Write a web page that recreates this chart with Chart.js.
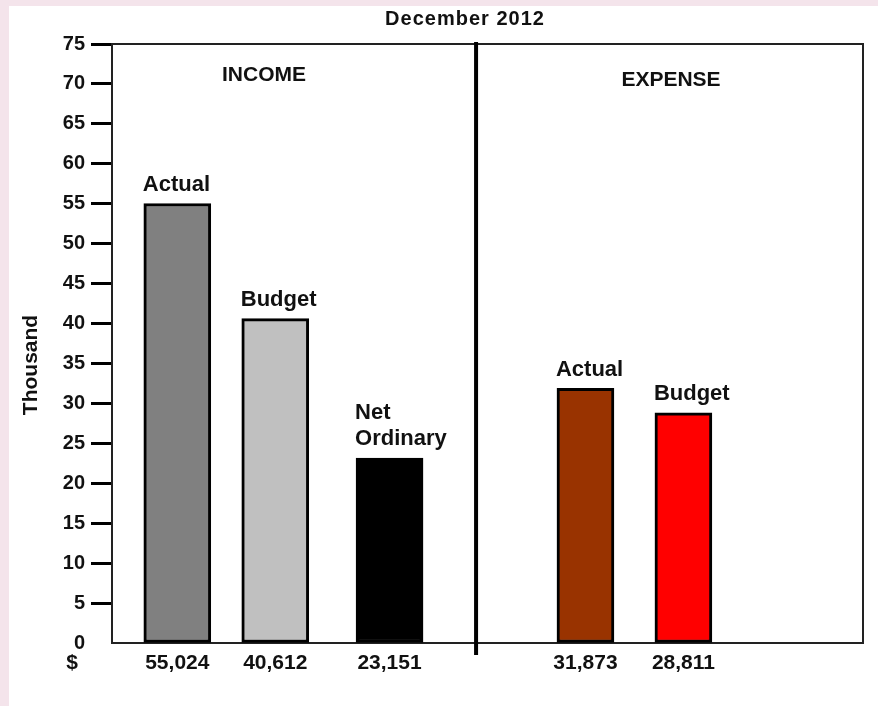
<!DOCTYPE html>
<html>
<head>
<meta charset="utf-8">
<script src="https://cdn.jsdelivr.net/npm/chart.js@4.4.0/dist/chart.umd.min.js"></script>
<style>
html,body{margin:0;padding:0;}
body{width:878px;height:706px;background:#f4e4eb;position:relative;overflow:hidden;}
#paper{position:absolute;left:9px;top:6px;right:0;bottom:0;background:#fff;}
#wrap{position:absolute;left:0;top:0;width:878px;height:706px;}
</style>
</head>
<body>
<div id="paper"></div>
<div id="wrap"><canvas id="chart"></canvas></div>
<script>
// values as printed under the bars
const categories = ['Actual', 'Budget', 'Net Ordinary', 'Actual', 'Budget'];
const sections = ['INCOME', 'INCOME', 'INCOME', 'EXPENSE', 'EXPENSE'];
const amounts = [55024, 40612, 23151, 31873, 28811];
const yTicks = [0, 5, 10, 15, 20, 25, 30, 35, 40, 45, 50, 55, 60, 65, 70, 75];
const sectionNames = ['INCOME', 'EXPENSE'];
const chartTitle = 'December 2012';
const yTitle = 'Thousand';

// layout: bars sit on a fine category grid
const SLOTS = 47;
const barSlot = [4, 10, 17, 29, 35];
const dividerSlot = 22.3;
const barColors = ['#808080', '#c0c0c0', '#000000', '#993300', '#ff0000'];
const FONT = "'Liberation Sans', Arial, sans-serif";

const labels = Array.from({length: SLOTS}, (_, i) => {
  const b = barSlot.indexOf(i);
  return b < 0 ? '' : categories[b];
});

function sectionData(name){
  const data = new Array(SLOTS).fill(null);
  sections.forEach((s, b) => { if(s === name) data[barSlot[b]] = amounts[b] / 1000; });
  return data;
}

const colorAt = ctx => {
  const b = barSlot.indexOf(ctx.dataIndex);
  return b < 0 ? 'transparent' : barColors[b];
};

const datasets = sectionNames.map((name, i) => ({
  label: name,
  data: sectionData(name),
  backgroundColor: colorAt,
  borderColor: '#000',
  borderWidth: 3,
  borderSkipped: false,
  barThickness: i === 0 ? 67 : 57,
  grouped: false
}));

const decorations = {
  id: 'decorations',
  afterDraw(chart){
    const {ctx, chartArea: a, scales: {x}} = chart;
    ctx.save();
    // frame top/right
    ctx.strokeStyle = '#222';
    ctx.lineWidth = 2;
    ctx.beginPath();
    ctx.moveTo(a.left, a.top);
    ctx.lineTo(a.right, a.top);
    ctx.lineTo(a.right, a.bottom);
    ctx.stroke();
    // divider between income and expense
    const dx = x.getPixelForValue(dividerSlot);
    ctx.strokeStyle = '#000';
    ctx.lineWidth = 4;
    ctx.beginPath();
    ctx.moveTo(dx, a.top - 2);
    ctx.lineTo(dx, a.bottom + 12);
    ctx.stroke();

    ctx.fillStyle = '#111';
    ctx.textBaseline = 'middle';
    ctx.textAlign = 'center';
    ctx.font = `bold 20px ${FONT}`;
    ctx.letterSpacing = '1px';
    ctx.fillText(chartTitle, 465, 19);
    ctx.letterSpacing = '0px';
    ctx.font = `bold 21px ${FONT}`;
    ctx.fillText(sectionNames[0], 264, 75);
    ctx.fillText(sectionNames[1], 671, 80);
    ctx.fillText('$', 72, 663);

    ctx.save();
    ctx.translate(31, 365);
    ctx.rotate(-Math.PI / 2);
    ctx.fillText(yTitle, 0, 0);
    ctx.restore();

    // category names above the bars
    ctx.font = `bold 22px ${FONT}`;
    ctx.textAlign = 'left';
    ctx.textBaseline = 'bottom';
    chart.data.datasets.forEach((ds, di) => {
      chart.getDatasetMeta(di).data.forEach((bar, i) => {
        if(ds.data[i] === null) return;
        const b = barSlot.indexOf(i);
        const lines = categories[b].split(' ');
        const left = bar.x - bar.width / 2 - 1;
        lines.slice().reverse().forEach((t, k) => {
          ctx.fillText(t, left, bar.y - 8 - k * 26);
        });
      });
    });
    ctx.restore();
  }
};

new Chart(document.getElementById('chart'), {
  type: 'bar',
  data: {labels, datasets},
  options: {
    responsive: true,
    maintainAspectRatio: false,
    animation: false,
    layout: {padding: {left: 0, right: 15, top: 44, bottom: 0}},
    plugins: {legend: {display: false}, tooltip: {enabled: false}, title: {display: false}},
    scales: {
      x: {
        offset: false,
        grid: {display: false, drawTicks: false},
        border: {display: true, color: '#222', width: 2},
        ticks: {
          autoSkip: false, maxRotation: 0, minRotation: 0, padding: 8,
          color: '#111', font: {family: FONT, size: 21, weight: 'bold'},
          callback: (v, i) => {
            const b = barSlot.indexOf(i);
            return b < 0 ? '' : amounts[b].toLocaleString('en-US');
          }
        },
        afterFit: s => { s.height = 63; }
      },
      y: {
        min: 0, max: 75,
        afterBuildTicks: s => { s.ticks = yTicks.map(v => ({value: v})); },
        grid: {
          drawOnChartArea: false, drawTicks: true, tickLength: 21, tickWidth: 3,
          tickColor: c => (c.tick && c.tick.value === 0) ? 'rgba(0,0,0,0)' : '#000'
        },
        border: {display: true, color: '#222', width: 2},
        ticks: {padding: 6, color: '#111', font: {family: FONT, size: 20, weight: 'bold'}},
        afterFit: s => { s.width = 112; }
      }
    }
  },
  plugins: [decorations]
});
</script>
</body>
</html>
